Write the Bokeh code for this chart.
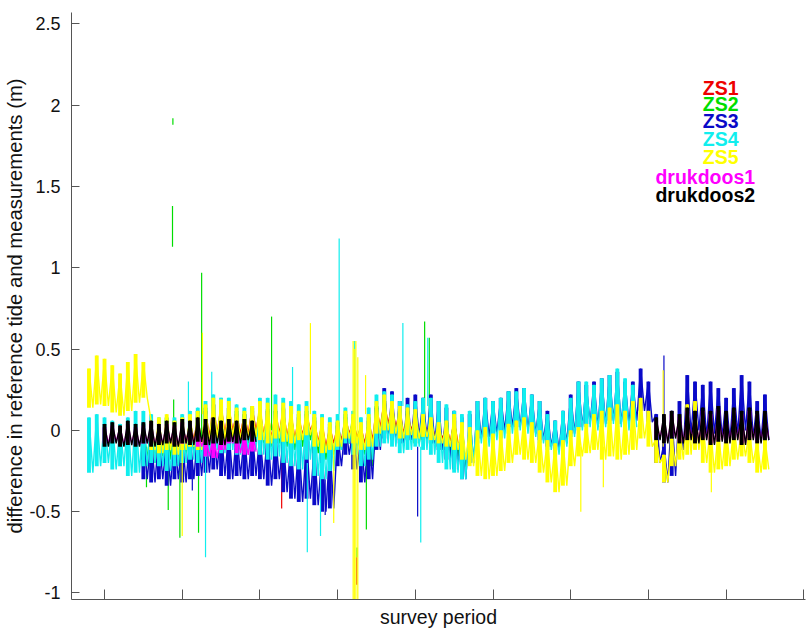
from bokeh.plotting import figure
from bokeh.models import Range1d, FixedTicker, ColumnDataSource
from bokeh.embed import file_html
from bokeh.resources import INLINE
from bokeh.core.properties import value

# ---------------- data ----------------
STEP = 0.1  # sampling step of the survey-period axis

# ZS1 (red)
zs1_t0 = 2.0
zs1_hi = [0.05, 0.06, 0.08, 0.12, 0.16, 0.15, 0.14, 0.10, 0.10, 0.14,
          0.13, 0.12, 0.12, 0.13, 0.10, 0.08, 0.10, 0.06, 0.04, 0.02,
          0.03, 0.08, 0.06, 0.02, 0.06, 0.14, 0.18, 0.15, 0.12, 0.10,
          0.10, 0.07, 0.05, 0.02, 0.03, 0.06]
zs1_lo = [-0.08, -0.06, -0.08, -0.04, -0.02, -0.02, 0.00, -0.02, -0.02, 0.00,
          -0.03, -0.05, -0.02, -0.04, -0.05, -0.03, 0.00, -0.07, -0.10, -0.08,
          -0.06, -0.02, -0.04, -0.08, -0.06, 0.02, 0.04, 0.02, -0.02, 0.00,
          -0.02, -0.01, -0.03, -0.05, -0.07, -0.08]
zs1_spike_t = [2.88, 3.28, 4.247]
zs1_spike_top = [0.14, -0.10, -0.78]
zs1_spike_bot = [0.00, -0.48, -0.95]

# ZS2 (green)
zs2_t0 = 1.5
zs2_hi = [0.04, 0.06, 0.05, 0.08, 0.06,
          0.08, 0.10, 0.12, 0.14, 0.16, 0.15, 0.14, 0.12, 0.10, 0.12,
          0.14, 0.13, 0.12, 0.14, 0.12, 0.10, 0.12, 0.08, 0.05, 0.04,
          0.05, 0.10, 0.08, 0.04, 0.08, 0.15, 0.18, 0.16, 0.13, 0.12,
          0.10, 0.08, 0.06, 0.04, 0.05, 0.08, 0.05]
zs2_lo = [-0.18, -0.20, -0.16, -0.18, -0.20,
          -0.15, -0.14, -0.16, -0.10, -0.08, -0.10, -0.08, -0.10, -0.08, -0.06,
          -0.08, -0.10, -0.08, -0.10, -0.12, -0.10, -0.06, -0.14, -0.18, -0.15,
          -0.12, -0.08, -0.10, -0.15, -0.22, -0.05, -0.02, -0.04, -0.06, -0.05,
          -0.08, -0.06, -0.08, -0.10, -0.12, -0.16, -0.24]
zs2_spike_t = [1.54, 1.82, 1.875, 1.88, 1.89, 1.97, 2.21, 2.25, 3.15, 4.25, 4.37, 5.12, 5.18]
zs2_spike_top = [-0.10, 0.00, 1.38, 1.92, 0.19, -0.05, 0.00, 0.97, 0.70, -0.72, -0.10, 0.67, 0.57]
zs2_spike_bot = [-0.35, -0.49, 1.13, 1.88, -0.10, -0.66, -0.63, -0.05, 0.00, -0.78, -0.61, 0.05, 0.05]

# ZS3 (blue)
zs3_t0 = 1.5
zs3_hi = [-0.02, -0.04, -0.02, -0.05, -0.03,
          -0.04, -0.02, 0.00, 0.02, 0.04, 0.02, 0.00, 0.00, -0.02, 0.00,
          -0.02, 0.00, -0.02, -0.04, -0.06, -0.08, -0.06, -0.10, -0.12, -0.10,
          -0.02, 0.05, 0.02, -0.04, 0.02, 0.14, 0.26, 0.24, 0.18, 0.20,
          0.22, 0.20, 0.22, 0.18, 0.14, 0.12, 0.08, 0.10, 0.18, 0.20,
          0.18, 0.20, 0.24, 0.26, 0.26, 0.22, 0.18, 0.12, 0.06, 0.12,
          0.22, 0.30, 0.28, 0.30, 0.32, 0.34, 0.36, 0.30, 0.30, 0.38,
          0.30, 0.10, -0.08, 0.12, 0.18, 0.34, 0.30, 0.28, 0.30, 0.26,
          0.20, 0.26, 0.34, 0.30, 0.18, 0.22]
zs3_lo = [-0.30, -0.32, -0.30, -0.34, -0.30,
          -0.32, -0.30, -0.28, -0.26, -0.24, -0.28, -0.30, -0.28, -0.30, -0.28,
          -0.30, -0.34, -0.30, -0.38, -0.42, -0.44, -0.42, -0.46, -0.50, -0.48,
          -0.22, -0.15, -0.24, -0.32, -0.30, -0.12, -0.05, -0.06, -0.08, -0.06,
          -0.04, -0.05, -0.08, -0.12, -0.18, -0.24, -0.30, -0.20, -0.05, -0.04,
          -0.02, 0.00, 0.02, 0.02, 0.00, -0.02, -0.06, -0.10, -0.12, -0.08,
          -0.02, 0.02, 0.04, 0.02, 0.04, 0.06, 0.04, 0.04, 0.06, 0.12,
          0.05, -0.20, -0.32, -0.28, -0.12, -0.02, 0.00, -0.04, -0.02, -0.04,
          -0.06, -0.02, 0.00, -0.04, -0.06, -0.06]
zs3_spike_t = [2.13, 3.84, 5.03, 8.20]
zs3_spike_top = [-0.20, -0.30, -0.10, 0.46]
zs3_spike_bot = [-0.37, -0.52, -0.53, 0.10]

# ZS4 (cyan)
zs4_t0 = 0.8
zs4_hi = [0.08, 0.10, 0.08, 0.06, 0.04, 0.08, 0.12, 0.12, 0.10, 0.08, 0.06, 0.08,
          0.10, 0.12, 0.14, 0.18, 0.22, 0.20, 0.20, 0.16, 0.14, 0.15,
          0.20, 0.20, 0.22, 0.20, 0.18, 0.16, 0.18, 0.12, 0.10, 0.08,
          0.10, 0.14, 0.12, 0.08, 0.14, 0.22, 0.24, 0.22, 0.18, 0.16,
          0.18, 0.20, 0.20, 0.18, 0.16, 0.12, 0.10, 0.12, 0.18, 0.20,
          0.18, 0.20, 0.24, 0.24, 0.26, 0.22, 0.18, 0.10, 0.06, 0.12,
          0.20, 0.30, 0.30, 0.28, 0.32, 0.34, 0.38, 0.32, 0.28]
zs4_lo = [-0.26, -0.22, -0.20, -0.24, -0.22, -0.28, -0.26, -0.22, -0.20, -0.22, -0.25, -0.22,
          -0.20, -0.18, -0.20, -0.16, -0.12, -0.14, -0.12, -0.15, -0.14, -0.12,
          -0.15, -0.18, -0.16, -0.20, -0.22, -0.24, -0.18, -0.28, -0.30, -0.25,
          -0.12, -0.08, -0.15, -0.22, -0.18, -0.10, -0.08, -0.10, -0.14, -0.12,
          -0.10, -0.12, -0.15, -0.20, -0.24, -0.26, -0.30, -0.20, -0.08, -0.10,
          -0.06, -0.05, -0.02, 0.00, -0.02, -0.04, -0.08, -0.12, -0.15, -0.10,
          -0.04, 0.00, 0.02, 0.00, 0.02, 0.04, 0.02, 0.00, 0.02]
zs4_spike_t = [2.08, 2.30, 2.38, 3.42, 3.61, 3.78, 4.02, 4.22, 4.84, 5.07, 5.16]
zs4_spike_top = [0.30, -0.10, 0.36, 0.39, -0.20, -0.20, 1.18, 0.55, 0.66, -0.10, 0.57]
zs4_spike_bot = [0.00, -0.78, 0.00, 0.10, -0.75, -0.65, 0.10, 0.00, 0.15, -0.69, 0.15]

# ZS5 (yellow)
zs5_t0 = 0.8
zs5_hi = [0.38, 0.46, 0.44, 0.40, 0.35, 0.42, 0.47, 0.42,
          0.06, 0.08, 0.10, 0.06, 0.08, 0.10, 0.12, 0.16, 0.20, 0.19, 0.18, 0.14, 0.12, 0.15,
          0.18, 0.17, 0.16, 0.17, 0.15, 0.12, 0.15, 0.10, 0.08, 0.05,
          0.06, 0.12, 0.10, 0.05, 0.10, 0.18, 0.22, 0.18, 0.15, 0.14,
          0.13, 0.10, 0.08, 0.05, 0.06, 0.10, 0.05, 0.02, 0.00, 0.02,
          -0.02, 0.00, 0.04, 0.06, 0.08, 0.05, 0.00, -0.06, -0.08, -0.06,
          0.00, 0.02, 0.04, 0.10, 0.12, 0.14, 0.16, 0.12, 0.18, 0.20,
          0.12, -0.05, -0.15, -0.05, 0.02, 0.16, 0.18, 0.06, 0.02, 0.00,
          0.03, 0.04, 0.02, 0.00, -0.06, -0.05]
zs5_lo = [0.14, 0.16, 0.15, 0.11, 0.09, 0.12, 0.17, 0.20,
          -0.12, -0.14, -0.12, -0.15, -0.12, -0.10, -0.12, -0.08, -0.05, -0.06, -0.04, -0.06, -0.05, -0.04,
          -0.06, -0.08, -0.05, -0.07, -0.08, -0.06, -0.03, -0.10, -0.14, -0.12,
          -0.10, -0.05, -0.08, -0.12, -0.10, -0.02, 0.00, -0.02, -0.05, -0.03,
          -0.05, -0.04, -0.06, -0.08, -0.10, -0.12, -0.18, -0.22, -0.28, -0.30,
          -0.28, -0.25, -0.20, -0.15, -0.18, -0.20, -0.26, -0.32, -0.38, -0.34,
          -0.22, -0.16, -0.14, -0.12, -0.18, -0.16, -0.18, -0.15, -0.12, -0.05,
          -0.10, -0.20, -0.32, -0.22, -0.18, -0.15, -0.12, -0.20, -0.26, -0.24,
          -0.22, -0.18, -0.16, -0.20, -0.26, -0.24]
zs5_spike_t = [2.00, 2.26, 3.65, 3.95, 4.20, 4.215, 4.235, 4.26, 4.36, 7.13, 7.42, 8.19, 8.81]
zs5_spike_top = [-0.10, 0.60, 0.66, -0.10, 0.55, 0.50, 0.55, 0.45, 0.34, -0.10, -0.10, 0.37, -0.20]
zs5_spike_bot = [-0.65, 0.10, 0.10, -0.57, -1.10, -1.10, -1.10, -1.10, 0.10, -0.50, -0.35, -0.10, -0.38]

# drukdoos1 (magenta), two recording periods
dd1a_t0 = 1.0
dd1a_hi = [0.02, 0.03, 0.02, 0.04, 0.02, 0.03, 0.04, 0.02, 0.04, 0.03,
           0.05, 0.04, 0.02, -0.02, -0.03, 0.00, 0.04, 0.00, -0.02, 0.00]
dd1a_lo = [-0.08, -0.07, -0.09, -0.08, -0.09, -0.08, -0.09, -0.08, -0.07, -0.09,
           -0.08, -0.08, -0.10, -0.16, -0.17, -0.12, -0.08, -0.14, -0.15, -0.13]
dd1b_t0 = 8.1
dd1b_hi = [0.06, 0.08, 0.10, 0.08, 0.12, 0.10, 0.12, 0.10, 0.13, 0.10, 0.12, 0.10, 0.12, 0.10, 0.10]
dd1b_lo = [-0.05, -0.07, -0.04, -0.07, -0.05, -0.07, -0.05, -0.08, -0.06, -0.07, -0.05, -0.08, -0.05, -0.07, -0.05]

# drukdoos2 (black), two recording periods
dd2a_t0 = 1.0
dd2a_hi = [0.04, 0.05, 0.03, 0.06, 0.04, 0.05, 0.06, 0.04, 0.06, 0.05,
           0.07, 0.06, 0.08, 0.07, 0.08, 0.06, 0.07, 0.06, 0.07, 0.06]
dd2a_lo = [-0.10, -0.08, -0.10, -0.09, -0.10, -0.08, -0.10, -0.09, -0.08, -0.10,
           -0.08, -0.09, -0.07, -0.09, -0.08, -0.09, -0.07, -0.08, -0.06, -0.07]
dd2b_t0 = 8.1
dd2b_hi = [0.08, 0.10, 0.12, 0.10, 0.14, 0.12, 0.14, 0.12, 0.15, 0.12, 0.14, 0.12, 0.14, 0.12, 0.12]
dd2b_lo = [-0.06, -0.08, -0.05, -0.08, -0.06, -0.08, -0.06, -0.09, -0.07, -0.08, -0.06, -0.09, -0.06, -0.08, -0.06]

legend_names = ["ZS1", "ZS2", "ZS3", "ZS4", "ZS5", "drukdoos1", "drukdoos2"]
x_ticks = [1, 2, 3, 4, 5, 6, 7, 8, 9, 10]
y_ticks = [-1, -0.5, 0, 0.5, 1, 1.5, 2, 2.5]
y_tick_labels = ["-1", "-0.5", "0", "0.5", "1", "1.5", "2", "2.5"]

# ---------------- styles ----------------
COL = {"ZS1": "#ee0000", "ZS2": "#00dd00", "ZS3": "#0a0ac8", "ZS4": "#10eeee",
       "ZS5": "#ffff00", "drukdoos1": "#ff00ff", "drukdoos2": "#000000"}
FONT = "Liberation Sans"

p = figure(width=808, height=630, output_backend="svg", toolbar_location=None,
           x_range=Range1d(0.575, 10.022), y_range=Range1d(-1.04, 2.57),
           min_border_left=71, min_border_right=3, min_border_top=12, min_border_bottom=30)
p.outline_line_color = None
p.grid.visible = False
p.background_fill_color = "white"
p.border_fill_color = "white"


def band(t0, hi, lo, color):
    ts = [t0 + i * STEP for i in range(len(hi))]
    # range of each tidal sample as a narrow bar
    p.vbar(x=ts, top=hi, bottom=lo, width=STEP * 0.5, fill_color=color,
           line_color=None)
    # the oscillating record itself
    xs, ys = [], []
    for t, h, l in zip(ts, hi, lo):
        xs += [t, t + STEP / 2]
        ys += [h, l]
    p.line(xs, ys, line_color=color, line_width=1.4)


def spikes(ts, top, bot, color):
    src = ColumnDataSource(dict(x=ts, y0=bot, y1=top))
    p.segment(x0="x", y0="y0", x1="x", y1="y1", source=src, line_color=color, line_width=1.2)


band(zs1_t0, zs1_hi, zs1_lo, COL["ZS1"])
spikes(zs1_spike_t, zs1_spike_top, zs1_spike_bot, COL["ZS1"])
band(zs2_t0, zs2_hi, zs2_lo, COL["ZS2"])
spikes(zs2_spike_t, zs2_spike_top, zs2_spike_bot, COL["ZS2"])
band(zs3_t0, zs3_hi, zs3_lo, COL["ZS3"])
spikes(zs3_spike_t, zs3_spike_top, zs3_spike_bot, COL["ZS3"])
band(zs4_t0, zs4_hi, zs4_lo, COL["ZS4"])
spikes(zs4_spike_t, zs4_spike_top, zs4_spike_bot, COL["ZS4"])
band(zs5_t0, zs5_hi, zs5_lo, COL["ZS5"])
spikes(zs5_spike_t, zs5_spike_top, zs5_spike_bot, COL["ZS5"])
band(dd1a_t0, dd1a_hi, dd1a_lo, COL["drukdoos1"])
band(dd1b_t0, dd1b_hi, dd1b_lo, COL["drukdoos1"])
band(dd2a_t0, dd2a_hi, dd2a_lo, COL["drukdoos2"])
band(dd2b_t0, dd2b_hi, dd2b_lo, COL["drukdoos2"])

# legend as coloured text labels (layout positions in data units)
leg_x = [8.70, 8.70, 8.70, 8.70, 8.70, 8.09, 8.09]
leg_y = [2.104, 2.006, 1.902, 1.791, 1.680, 1.557, 1.446]
leg_src = ColumnDataSource(dict(x=leg_x, y=leg_y, text=legend_names,
                                color=[COL[n] for n in legend_names]))
p.text(x="x", y="y", text="text", source=leg_src, text_color="color",
       text_font=value(FONT), text_font_size="19.5px", text_font_style="bold",
       text_align="left", text_baseline="middle")

# axes
p.xaxis.ticker = FixedTicker(ticks=x_ticks)
p.xaxis.major_label_overrides = {t: "" for t in x_ticks}
p.xaxis.major_label_text_font_size = "0px"
p.xaxis.major_label_standoff = 0
p.xaxis.major_tick_in = 10
p.xaxis.major_tick_out = 0
p.xaxis.minor_tick_line_color = None
p.xaxis.axis_label = "survey period"
p.xaxis.axis_label_standoff = 6

p.yaxis.ticker = FixedTicker(ticks=y_ticks)
p.yaxis.major_label_overrides = {t: lab for t, lab in zip(y_ticks, y_tick_labels)}
p.yaxis.major_tick_in = 8
p.yaxis.major_tick_out = 0
p.yaxis.minor_tick_line_color = None
p.yaxis.major_label_standoff = 11
p.yaxis.axis_label = "difference in reference tide and measurements (m)"
p.yaxis.axis_label_standoff = 0

for ax in (p.xaxis, p.yaxis):
    ax.axis_line_color = "#555555"
    ax.major_tick_line_color = "#555555"
    ax.axis_label_text_font = FONT
    ax.axis_label_text_font_size = "19.5px"
    ax.axis_label_text_font_style = "normal"
    ax.axis_label_text_color = "#111111"
    ax.major_label_text_font = FONT
    ax.major_label_text_color = "#111111"
p.yaxis.major_label_text_font_size = "18px"
p.yaxis.axis_label_text_font_size = "20.3px"

open("out.html", "w").write(file_html(p, INLINE))
